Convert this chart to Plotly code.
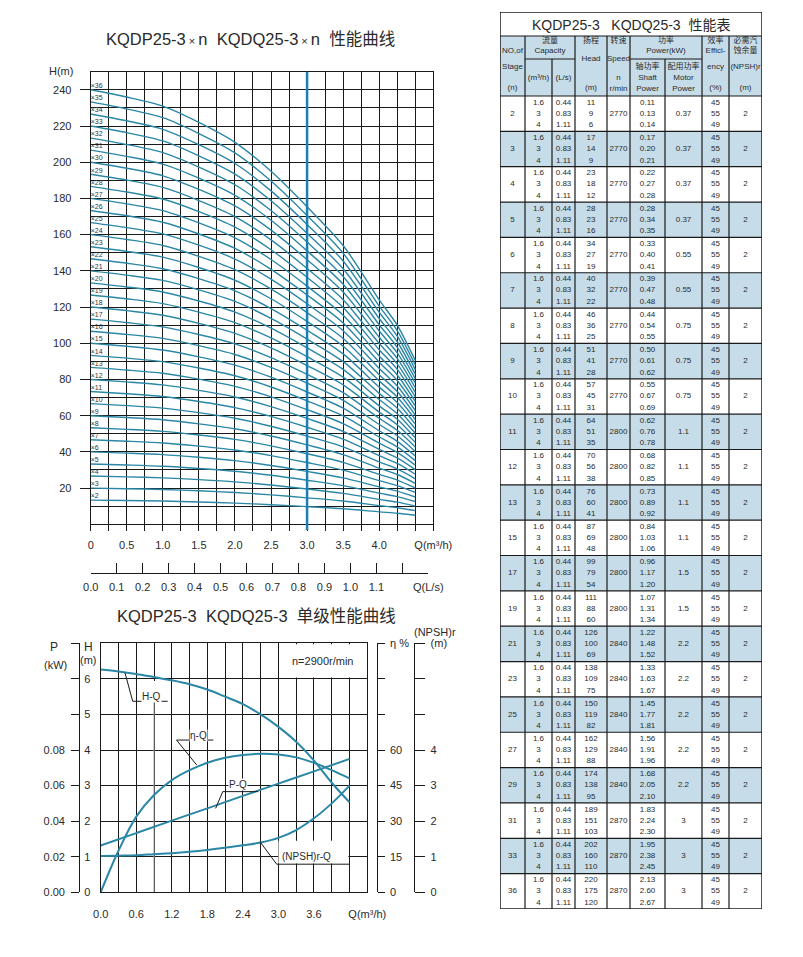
import plotly.graph_objects as go

# The page body adds an 8 px margin, so the figure is sized/offset to compensate.
OFF = 8
FIG_W, FIG_H = 803 - OFF, 957 - 2 * OFF
def px(x): return (x - OFF) / FIG_W
def py(y): return 1 - (y - OFF) / FIG_H

FONT = "Liberation Sans, Arial, Noto Sans CJK SC, sans-serif"
CURVE = "#2b87a6"
MARK = "#1b7fb0"
INK = "#1a1a1a"
TXT = "#2a2a2a"
SHADE = "#c6dde9"

# ---------------- data: multistage curves ----------------
stages_curve = list(range(2, 37))
q_curve = [0, 0.5, 1.0, 1.5, 2.0, 2.5, 3.0, 3.5, 4.0, 4.25, 4.5]
head_top_curve = [240, 236, 231, 222, 211, 195, 175.4, 154, 124, 110, 90.5]  # x36 curve
top_stage = 36
q_mark = 3.0
x_ticks_m3h = [0, 0.5, 1.0, 1.5, 2.0, 2.5, 3.0, 3.5, 4.0, 4.75]
x_labels_m3h = ['0', '0.5', '1.0', '1.5', '2.0', '2.5', '3.0', '3.5', '4.0', 'Q(m³/h)']
y_ticks_top = [20, 40, 60, 80, 100, 120, 140, 160, 180, 200, 220, 240]
ls_ticks = [0.0, 0.1, 0.2, 0.3, 0.4, 0.5, 0.6, 0.7, 0.8, 0.9, 1.0, 1.1, 1.2, 1.3]
ls_labels = ['0.0', '0.1', '0.2', '0.3', '0.4', '0.5', '0.6', '0.7', '0.8', '0.9', '1.0', '1.1', '', 'Q(L/s)']

# ---------------- data: single stage curves ----------------
q_single = [0, 0.3, 0.6, 0.9, 1.2, 1.5, 1.8, 2.1, 2.4, 2.7, 3.0, 3.3, 3.6, 3.9, 4.2]
h_single = [6.26, 6.21, 6.14, 6.05, 5.96, 5.85, 5.70, 5.50, 5.29, 5.00, 4.65, 4.23, 3.70, 3.08, 2.53]
eta_single = [0, 17.5, 31.9, 41.0, 47.3, 51.5, 54.6, 56.7, 57.9, 58.4, 58.1, 56.9, 54.6, 51.5, 48.0]
npsh_single = [1.02, 1.03, 1.04, 1.07, 1.10, 1.14, 1.19, 1.25, 1.32, 1.40, 1.53, 1.75, 2.08, 2.50, 3.0]
q_power = [0, 0.6, 1.2, 1.8, 2.4, 3.0, 3.6, 4.2]
p_single = [0.0263, 0.0333, 0.0403, 0.0472, 0.0542, 0.0611, 0.0680, 0.0750]
x_ticks_single = [0, 0.6, 1.2, 1.8, 2.4, 3.0, 3.6, 4.5]
x_labels_single = ['0.0', '0.6', '1.2', '1.8', '2.4', '3.0', '3.6', 'Q(m³/h)']
p_ticks = [0, 0.02, 0.04, 0.06, 0.08, 0.10, 0.12, 0.14]
p_labels = ['0.00', '0.02', '0.04', '0.06', '0.08', '', '', '']
eta_ticks = [0, 15, 30, 45, 60, 75, 90, 105]
eta_labels = ['0', '15', '30', '45', '60', '', '', 'η %']
npsh_ticks = [0, 1, 2, 3, 4, 5, 6, 7]
npsh_labels = ['0', '1', '2', '3', '4', '', '', '(m)']

# ---------------- data: table ----------------
table_stages = [2, 3, 4, 5, 6, 7, 8, 9, 10, 11, 12, 13, 15, 17, 19, 21, 23, 25, 27, 29, 31, 33, 36]
flow_m3h = ['1.6', '3', '4']
flow_ls = ['0.44', '0.83', '1.11']
heads = [[11, 9, 6], [17, 14, 9], [23, 18, 12], [28, 23, 16], [34, 27, 19], [40, 32, 22],
         [46, 36, 25], [51, 41, 28], [57, 45, 31], [64, 51, 35], [70, 56, 38], [76, 60, 41],
         [87, 69, 48], [99, 79, 54], [111, 88, 60], [126, 100, 69], [138, 109, 75],
         [150, 119, 82], [162, 129, 88], [174, 138, 95], [189, 151, 103], [202, 160, 110],
         [220, 175, 120]]
speeds = [2770, 2770, 2770, 2770, 2770, 2770, 2770, 2770, 2770, 2800, 2800, 2800, 2800, 2800,
          2800, 2840, 2840, 2840, 2840, 2840, 2870, 2870, 2870]
shaft_power = [['0.11', '0.13', '0.14'], ['0.17', '0.20', '0.21'], ['0.22', '0.27', '0.28'],
               ['0.28', '0.34', '0.35'], ['0.33', '0.40', '0.41'], ['0.39', '0.47', '0.48'],
               ['0.44', '0.54', '0.55'], ['0.50', '0.61', '0.62'], ['0.55', '0.67', '0.69'],
               ['0.62', '0.76', '0.78'], ['0.68', '0.82', '0.85'], ['0.73', '0.89', '0.92'],
               ['0.84', '1.03', '1.06'], ['0.96', '1.17', '1.20'], ['1.07', '1.31', '1.34'],
               ['1.22', '1.48', '1.52'], ['1.33', '1.63', '1.67'], ['1.45', '1.77', '1.81'],
               ['1.56', '1.91', '1.96'], ['1.68', '2.05', '2.10'], ['1.83', '2.24', '2.30'],
               ['1.95', '2.38', '2.45'], ['2.13', '2.60', '2.67']]
motor_power = ['0.37', '0.37', '0.37', '0.37', '0.55', '0.55', '0.75', '0.75', '0.75', '1.1',
               '1.1', '1.1', '1.1', '1.5', '1.5', '2.2', '2.2', '2.2', '2.2', '2.2', '3', '3', '3']
efficiency = ['45', '55', '49']
npsh_req = ['2'] * 23

fig = go.Figure()

# ================= top chart =================
for n in stages_curve:
    fig.add_trace(go.Scatter(
        x=q_curve, y=[h * n / top_stage for h in head_top_curve], mode='lines',
        line=dict(color=CURVE, width=1.4, shape='spline', smoothing=0.8),
        xaxis='x', yaxis='y', hoverinfo='skip', showlegend=False))
fig.add_trace(go.Scatter(
    x=[0] * len(stages_curve), y=[head_top_curve[0] * n / top_stage for n in stages_curve],
    text=['×%d' % n for n in stages_curve], mode='text', textposition='top right',
    textfont=dict(size=7, color='#333333', family=FONT), xaxis='x', yaxis='y',
    hoverinfo='skip', showlegend=False, cliponaxis=False))
# L/s scale carrier (invisible)
fig.add_trace(go.Scatter(x=ls_ticks, y=[0.5] * len(ls_ticks), mode='markers',
                         marker=dict(opacity=0), xaxis='x2', yaxis='y2',
                         hoverinfo='skip', showlegend=False))

# ================= bottom chart =================
fig.add_trace(go.Scatter(x=q_single, y=h_single, mode='lines', xaxis='x3', yaxis='y3',
                         line=dict(color=CURVE, width=2, shape='spline'), showlegend=False))
fig.add_trace(go.Scatter(x=q_power, y=p_single, mode='lines', xaxis='x3', yaxis='y4',
                         line=dict(color=CURVE, width=2, shape='spline'), showlegend=False))
fig.add_trace(go.Scatter(x=q_single, y=eta_single, mode='lines', xaxis='x3', yaxis='y5',
                         line=dict(color=CURVE, width=2, shape='spline'), showlegend=False))
fig.add_trace(go.Scatter(x=q_single, y=npsh_single, mode='lines', xaxis='x3', yaxis='y6',
                         line=dict(color=CURVE, width=2, shape='spline'), showlegend=False))

# ================= table =================
col_edges = [0, 25, 52, 75, 107, 130, 165, 202, 229, 262]
cx = [(col_edges[i] + col_edges[i + 1]) / 2 for i in range(9)]
TBL_H = 897
TITLE_B = 24
HEAD_MID = 47
HEAD_B = 84
row_h = (TBL_H - HEAD_B) / len(table_stages)

shapes = []
def tline(x0, y0, x1, y1, w=1.2):
    shapes.append(dict(type='line', xref='x4', yref='y7', x0=x0, y0=y0, x1=x1, y1=y1,
                       line=dict(color=INK, width=w)))
def trect(x0, y0, x1, y1, color):
    shapes.append(dict(type='rect', xref='x4', yref='y7', x0=x0, y0=y0, x1=x1, y1=y1,
                       fillcolor=color, line=dict(width=0), layer='below'))

trect(0, TITLE_B, 262, HEAD_B, SHADE)
for i in range(len(table_stages)):
    if i % 2 == 1:
        trect(0, HEAD_B + i * row_h, 262, HEAD_B + (i + 1) * row_h, SHADE)
tline(0, 0, 262, 0, 1.5); tline(0, TBL_H, 262, TBL_H, 1.5)
tline(0, 0, 0, TBL_H, 1.5); tline(262, 0, 262, TBL_H, 1.5)
tline(0, TITLE_B, 262, TITLE_B); tline(0, HEAD_B, 262, HEAD_B)
tline(25, HEAD_MID, 75, HEAD_MID); tline(130, HEAD_MID, 202, HEAD_MID)
for e in [25, 75, 107, 130, 202, 229]:
    tline(e, TITLE_B, e, TBL_H)
for e in [52, 165]:
    tline(e, HEAD_MID, e, TBL_H)
for i in range(1, len(table_stages)):
    tline(0, HEAD_B + i * row_h, 262, HEAD_B + i * row_h)

tx, ty, tt = [], [], []
def put(x, y, s):
    tx.append(x); ty.append(y); tt.append(str(s))

for i, st in enumerate(table_stages):
    mid = HEAD_B + i * row_h + row_h / 2
    subs = [mid - 11, mid, mid + 11.5]
    put(cx[0], mid, st)
    put(cx[4], mid, speeds[i])
    put(cx[6], mid, motor_power[i])
    put(cx[8], mid, npsh_req[i])
    for k in range(3):
        put(cx[1], subs[k], flow_m3h[k])
        put(cx[2], subs[k], flow_ls[k])
        put(cx[3], subs[k], heads[i][k])
        put(cx[5], subs[k], shaft_power[i][k])
        put(cx[7], subs[k], efficiency[k])

header_cells = [
    ('NO,of', cx[0], 38.5), ('Stage', cx[0], 54.7), ('(n)', cx[0], 76),
    ('流量', 50, 29), ('Capacity', 50, 38.5),
    ('(m³/h)', cx[1], 66), ('(L/s)', cx[2], 66),
    ('扬程', cx[3], 29), ('Head', cx[3], 47.3), ('(m)', cx[3], 76),
    ('转速', cx[4], 29), ('Speed', cx[4], 47.3), ('n', cx[4], 66), ('r/min', cx[4], 77),
    ('功率', 166, 29), ('Power(kW)', 166, 38.5),
    ('轴功率', cx[5], 55), ('Shaft', cx[5], 66), ('Power', cx[5], 77),
    ('配用功率', cx[6], 55), ('Motor', cx[6], 66), ('Power', cx[6], 77),
    ('效率', cx[7], 29), ('Effici-', cx[7], 38.5), ('ency', cx[7], 54.7), ('(%)', cx[7], 76),
    ('必需汽', cx[8], 29), ('蚀余量', cx[8], 38.5), ('(NPSH)r', cx[8], 54.7), ('(m)', cx[8], 76),
]
for s, x, y in header_cells:
    put(x, y, s)

fig.add_trace(go.Scatter(x=tx, y=ty, text=tt, mode='text', textposition='middle center',
                         textfont=dict(size=8, color=TXT, family=FONT), xaxis='x4', yaxis='y7',
                         hoverinfo='skip', showlegend=False, cliponaxis=False))

# ================= shapes for charts =================
shapes.append(dict(type='line', xref='x', yref='paper', x0=q_mark, x1=q_mark,
                   y0=py(530), y1=py(71.7), line=dict(color=MARK, width=2.5)))
def wbox(x0, x1, y0, y1):
    shapes.append(dict(type='rect', xref='x3', yref='y3', x0=x0, x1=x1, y0=y0, y1=y1,
                       fillcolor='white', line=dict(width=0), layer='between'))
wbox(3.03, 4.47, 6.04, 6.97)      # n=2900r/min note
wbox(0.62, 1.12, 5.40, 5.94)      # H-Q note
wbox(3.00, 4.18, 0.81, 1.45)      # (NPSH)r-Q note
shapes.append(dict(type='line', xref='x3', yref='y3', x0=0.9, x1=0.9, y0=0, y1=5.37,
                   line=dict(color='#9a9a9a', width=1), layer='between'))
def cline(x0, y0, x1, y1):
    shapes.append(dict(type='line', xref='x3', yref='y3', x0=x0, y0=y0, x1=x1, y1=y1,
                       line=dict(color=INK, width=1)))
cline(0.54, 5.37, 1.13, 5.37); cline(0.54, 5.37, 0.41, 6.17)
cline(1.28, 4.28, 1.90, 4.28); cline(1.28, 4.28, 1.62, 3.58)
cline(2.06, 2.83, 2.66, 2.83); cline(2.06, 2.83, 1.94, 2.36)
cline(2.97, 0.79, 4.20, 0.79); cline(2.97, 0.79, 2.69, 1.42)

annotations = []
def ann(text, x, y, size=11, xref='paper', yref='paper', **kw):
    d = dict(text=text, x=x, y=y, xref=xref, yref=yref, showarrow=False,
             font=dict(size=size, color=TXT, family=FONT), xanchor='center', yanchor='middle')
    d.update(kw)
    annotations.append(d)

ann('KQDP25-3<span style="font-size:11px"> × </span>n  KQDQ25-3<span style="font-size:11px"> × </span>n  性能曲线',
    px(250), py(39), size=16.5)
ann('H(m)', px(61), py(71), size=11)
ann('KQDP25-3  KQDQ25-3  单级性能曲线', px(256.7), py(616), size=16.5)
ann('P', px(54), py(647), size=12)
ann('(kW)', px(55), py(665), size=11)
ann('H', px(88.3), py(647), size=12)
ann('(m)', px(88.3), py(660), size=11)
ann('(NPSH)r', px(435), py(632), size=11)
ann('n=2900r/min', px(322.7), py(661), size=11)
ann('H-Q', 0.86, 5.51, size=10, xref='x3', yref='y3', bgcolor='white', borderpad=0)
ann('η-Q', 1.65, 4.42, size=10, xref='x3', yref='y3', bgcolor='white', borderpad=0)
ann('P-Q', 2.32, 3.03, size=10, xref='x3', yref='y3', bgcolor='white', borderpad=0)
ann('(NPSH)r-Q', 3.48, 1.02, size=10, xref='x3', yref='y3', bgcolor='white', borderpad=0)
ann('KQDP25-3   KQDQ25-3  性能表', 131, 12.5, size=14, xref='x4', yref='y7')

axis_font = dict(size=11, color=TXT, family=FONT)
fig.update_layout(
    width=FIG_W, height=FIG_H, margin=dict(l=0, r=0, t=0, b=0, autoexpand=False),
    paper_bgcolor='white', plot_bgcolor='white', showlegend=False,
    font=dict(family=FONT, color=TXT),
    xaxis=dict(domain=[px(90.7), px(433.3)], range=[0, 4.75], anchor='y', automargin=False,
               tickmode='array', tickvals=x_ticks_m3h, ticktext=x_labels_m3h,
               ticks='outside', ticklen=6, tickcolor=INK, tickfont=axis_font,
               showgrid=True, gridcolor=INK, gridwidth=1,
               minor=dict(tick0=0, dtick=0.25, showgrid=True, gridcolor=INK, gridwidth=1,
                          ticks='outside', ticklen=6, tickcolor=INK),
               showline=True, linecolor=INK, linewidth=1.2, mirror=True, zeroline=False,
               ticklabelstandoff=4),
    yaxis=dict(domain=[py(524.3), py(71.7)], range=[0, 250], anchor='x', automargin=False,
               tickmode='array', tickvals=y_ticks_top, ticks='outside', ticklen=10,
               tickcolor=INK, tickfont=axis_font,
               showgrid=True, gridcolor=INK, gridwidth=1,
               minor=dict(tick0=0, dtick=10, showgrid=True, gridcolor=INK, gridwidth=1),
               showline=True, linecolor=INK, linewidth=1.2, mirror=True, zeroline=False,
               ticklabelstandoff=6),
    xaxis2=dict(domain=[px(90.7), px(428.3)], range=[0, 1.3], anchor='y2', automargin=False,
                tickmode='array', tickvals=ls_ticks, ticktext=ls_labels,
                ticks='inside', ticklen=10, tickcolor=INK, tickfont=axis_font,
                showgrid=False, showline=True, linecolor=INK, linewidth=1.2, zeroline=False,
                ticklabelstandoff=3),
    yaxis2=dict(domain=[py(573.3), py(563)], range=[0, 1], anchor='x2', visible=False,
                automargin=False),
    xaxis3=dict(domain=[px(100.7), px(367.3)], range=[0, 4.5], anchor='y3', automargin=False,
                tickmode='array', tickvals=x_ticks_single, ticktext=x_labels_single,
                ticks='', tickfont=axis_font,
                showgrid=True, gridcolor=INK, gridwidth=1,
                minor=dict(tick0=0, dtick=0.3, showgrid=True, gridcolor=INK, gridwidth=1),
                showline=True, linecolor=INK, linewidth=1.2, mirror=True, zeroline=False,
                ticklabelstandoff=11),
    yaxis3=dict(domain=[py(892.3), py(643.3)], range=[0, 7], anchor='x3', automargin=False,
                tickmode='array', tickvals=[0, 1, 2, 3, 4, 5, 6], ticks='', tickfont=axis_font,
                showgrid=True, gridcolor=INK, gridwidth=1,
                showline=True, linecolor=INK, linewidth=1.2, mirror=True, zeroline=False,
                ticklabelstandoff=7),
    yaxis4=dict(overlaying='y3', anchor='free', position=px(79.3), side='left',
                automargin=False,
                range=[0, 0.14], tickmode='array', tickvals=p_ticks, ticktext=p_labels,
                ticks='outside', ticklen=8, tickcolor=INK, tickfont=axis_font,
                showgrid=False, showline=True, linecolor=INK, linewidth=1.2, zeroline=False,
                ticklabelstandoff=4),
    yaxis5=dict(overlaying='y3', anchor='free', position=px(376.7), side='right',
                automargin=False,
                range=[0, 105], tickmode='array', tickvals=eta_ticks, ticktext=eta_labels,
                ticks='outside', ticklen=7, tickcolor=INK, tickfont=axis_font,
                showgrid=False, showline=True, linecolor=INK, linewidth=1.2, zeroline=False,
                ticklabelstandoff=3),
    yaxis6=dict(overlaying='y3', anchor='free', position=px(414.3), side='right',
                automargin=False,
                range=[0, 7], tickmode='array', tickvals=npsh_ticks, ticktext=npsh_labels,
                ticks='outside', ticklen=10, tickcolor=INK, tickfont=axis_font,
                showgrid=False, showline=True, linecolor=INK, linewidth=1.2, zeroline=False,
                ticklabelstandoff=3),
    xaxis4=dict(domain=[px(500), px(762)], range=[0, 262], anchor='y7', visible=False,
                automargin=False),
    yaxis7=dict(domain=[py(909), py(12)], range=[TBL_H, 0], anchor='x4', visible=False,
                automargin=False),
    shapes=shapes, annotations=annotations,
)

fig.write_html("out.html")
